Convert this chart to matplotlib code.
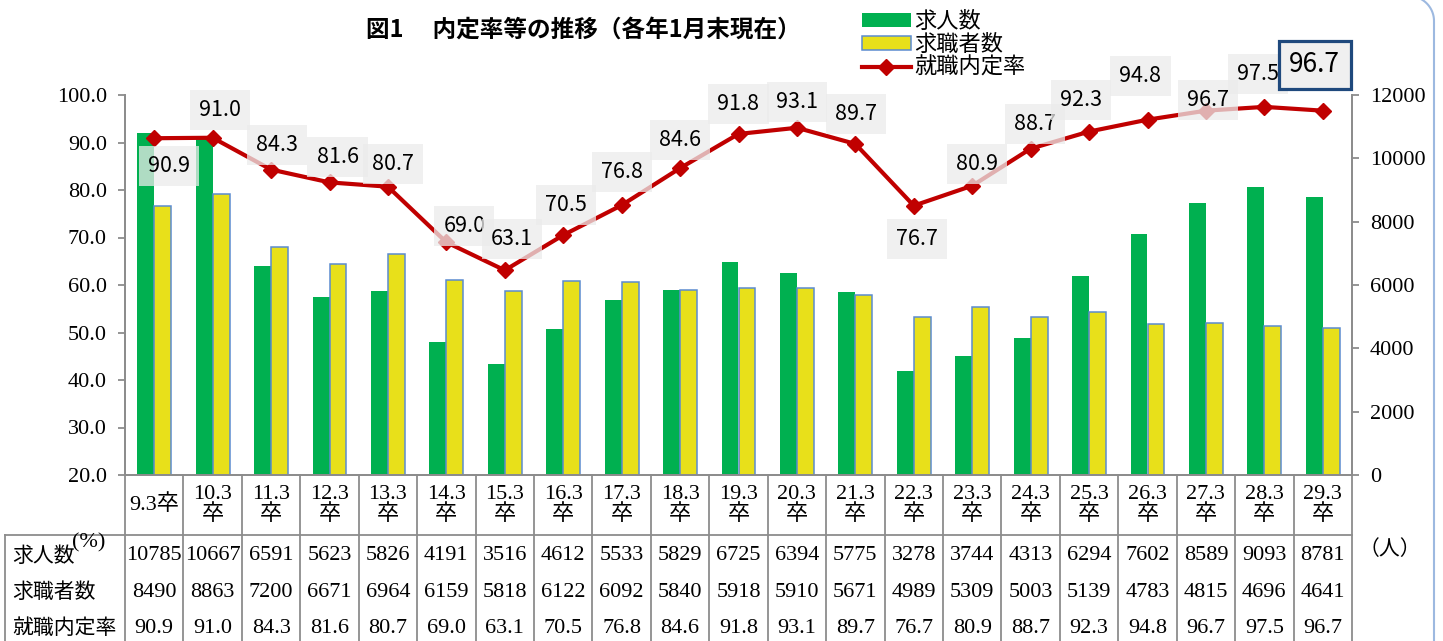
import matplotlib
matplotlib.use('Agg')
import numpy as np
import matplotlib.pyplot as plt
from matplotlib.patches import Patch
from matplotlib.lines import Line2D
from matplotlib.transforms import blended_transform_factory

plt.rcParams['font.family'] = ['Noto Sans CJK JP', 'DejaVu Sans']

# データ
categories = ['9.3卒', '10.3\n卒', '11.3\n卒', '12.3\n卒', '13.3\n卒', '14.3\n卒', '15.3\n卒',
              '16.3\n卒', '17.3\n卒', '18.3\n卒', '19.3\n卒', '20.3\n卒', '21.3\n卒', '22.3\n卒',
              '23.3\n卒', '24.3\n卒', '25.3\n卒', '26.3\n卒', '27.3\n卒', '28.3\n卒', '29.3\n卒']
job_offers = [10785, 10667, 6591, 5623, 5826, 4191, 3516, 4612, 5533, 5829, 6725,
              6394, 5775, 3278, 3744, 4313, 6294, 7602, 8589, 9093, 8781]
job_seekers = [8490, 8863, 7200, 6671, 6964, 6159, 5818, 6122, 6092, 5840, 5918,
               5910, 5671, 4989, 5309, 5003, 5139, 4783, 4815, 4696, 4641]
rate = [90.9, 91.0, 84.3, 81.6, 80.7, 69.0, 63.1, 70.5, 76.8, 84.6, 91.8,
        93.1, 89.7, 76.7, 80.9, 88.7, 92.3, 94.8, 96.7, 97.5, 96.7]
row_names = ['求人数', '求職者数', '就職内定率']

# ラベル位置 (ピクセルオフセット)
label_offsets = [(15, -28), (7, 28), (6, 25), (8, 25), (5, 23), (18, 16), (7, 31),
                 (3, 30), (0, 33), (0, 28), (0, 30), (0, 26), (1, 30), (3, -33),
                 (5, 22), (4, 25), (-8, 32), (-7, 44), (2, 11), (-6, 33), (-8, 46)]

GREEN = '#00B050'
YELLOW = '#E8E01A'
RED = '#C00000'
GRID = '#8C8C8C'
SERIF = ['Liberation Serif', 'Noto Sans CJK JP']
W, H = 1443, 641

fig = plt.figure(figsize=(W / 100, H / 100), dpi=100)
ax = fig.add_axes([125 / W, 166 / H, 1227 / W, 380 / H])
ax2 = ax.twinx()
ax.set_zorder(ax2.get_zorder() + 1)
ax.patch.set_visible(False)

x = list(range(len(categories)))
w = 0.29
ax2.bar([i - w / 2 for i in x], job_offers, width=w, color=GREEN, linewidth=0)
ax2.bar([i + w / 2 for i in x], job_seekers, width=w, color=YELLOW,
        edgecolor='#5B8BD0', linewidth=1.1)
ax.plot(x, rate, color=RED, linewidth=3, marker='D', markersize=8)

ax.set_xlim(-0.5, len(categories) - 0.5)
ax.set_ylim(20, 100)
ax.set_yticks(range(20, 101, 10))
ax.set_yticklabels([f'{v:.1f}' for v in range(20, 101, 10)])
ax2.set_ylim(0, 12000)
ax2.set_yticks(range(0, 12001, 2000))
ax.set_xticks([])

for a in (ax, ax2):
    for s in a.spines.values():
        s.set_color(GRID)
        s.set_linewidth(1.3)
    a.spines['top'].set_visible(False)
    a.tick_params(axis='y', length=5, width=1.3, color=GRID, labelsize=16, pad=8)
    for t in a.get_yticklabels():
        t.set_family(SERIF)

# データラベル
for i, v in enumerate(rate):
    dx, dy = label_offsets[i]
    if i == len(rate) - 1:
        ax.annotate(f'{v:.1f}', (i, v), xytext=(dx, dy), textcoords='offset pixels',
                    ha='center', va='center', fontsize=19, zorder=6,
                    bbox=dict(boxstyle='square,pad=0.4', facecolor='#F0F0F0',
                              edgecolor='#1F497D', linewidth=2.3))
    else:
        ax.annotate(f'{v:.1f}', (i, v), xytext=(dx, dy), textcoords='offset pixels',
                    ha='center', va='center', fontsize=15.5, zorder=6,
                    bbox=dict(boxstyle='square,pad=0.42', facecolor='#EBEBEB',
                              edgecolor='none', alpha=0.75))

# データテーブル
tr = blended_transform_factory(ax.transData, ax.transAxes)
line_kw = dict(color=GRID, linewidth=1.3, clip_on=False)
for i in range(len(categories) + 1):
    ax.add_line(Line2D([i - 0.5, i - 0.5], [0, -0.5], transform=tr, **line_kw))
ax.add_line(Line2D([-0.098, 1], [-0.158, -0.158], transform=ax.transAxes, **line_kw))
ax.add_line(Line2D([-0.098, -0.098], [-0.158, -0.5], transform=ax.transAxes, **line_kw))

rows = [[str(v) for v in job_offers], [str(v) for v in job_seekers], [f'{v:.1f}' for v in rate]]
row_y = [-0.213, -0.308, -0.403]
for i, c in enumerate(categories):
    ax.text(i, -0.079, c, transform=tr, ha='center', va='center', fontsize=16,
            family=SERIF, linespacing=1.05)
    for r, y in zip(rows, row_y):
        ax.text(i, y, r[i], transform=tr, ha='center', va='center', fontsize=16,
                family=SERIF)
for name, y in zip(row_names, row_y):
    ax.text(-0.092, y, name, transform=ax.transAxes, ha='left', va='center', fontsize=15)

ax.text(-0.030, -0.178, '(%)', transform=ax.transAxes, ha='center', va='center',
        fontsize=16, family=SERIF)
ax.text(1.031, -0.195, '（人）', transform=ax.transAxes, ha='center', va='center',
        fontsize=15)

fig.text(583 / W, 1 - 30 / H, '図1　 内定率等の推移（各年1月末現在）', ha='center', va='center',
         fontsize=17, fontweight='bold')

handles = [Patch(facecolor=GREEN, edgecolor='none'),
           Patch(facecolor=YELLOW, edgecolor='#5B8BD0', linewidth=1.1),
           Line2D([], [], color=RED, linewidth=3, marker='D', markersize=8)]
fig.legend(handles, row_names, loc='upper left', bbox_to_anchor=(862 / W, 1 - 10 / H),
           frameon=False, fontsize=16, handlelength=2.2, handleheight=0.55,
           labelspacing=0.0, borderpad=0, borderaxespad=0, handletextpad=0.15)

# 右側の枠線 (角丸)
t = np.linspace(0, np.pi / 2, 30)
bx = np.concatenate([[1434, 1434], 1409 + 25 * np.cos(t), [1300]])
by = np.concatenate([[H + 5, 21], 21 - 25 * np.sin(t), [-4]])
fig.add_artist(Line2D(bx / W, 1 - by / H, transform=fig.transFigure,
                      color='#9DB9E0', linewidth=1.5))

fig.savefig('out.png', dpi=100)
